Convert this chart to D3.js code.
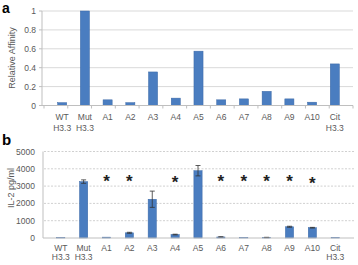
<!DOCTYPE html>
<html>
<head>
<meta charset="utf-8">
<script src="https://cdn.jsdelivr.net/npm/d3@7"></script>
<style>
  body { margin: 0; background: #fff; }
  svg { display: block; font-family: "Liberation Sans", Arial, sans-serif; }
</style>
</head>
<body>
<div id="chart"></div>
<script>
// categories, two lines each
const categories = ["WT H3.3", "Mut H3.3", "A1", "A2", "A3", "A4", "A5", "A6", "A7", "A8", "A9", "A10", "Cit H3.3"];
// panel a: relative affinity
const affinity = [0.03, 1.0, 0.06, 0.03, 0.355, 0.078, 0.575, 0.06, 0.07, 0.15, 0.07, 0.035, 0.44];
// panel b: IL-2 pg/ml, with error
const il2 = [20, 3260, 50, 300, 2240, 200, 3890, 60, 20, 30, 650, 595, 20];
const il2Err = [0, 100, 0, 30, 470, 20, 300, 10, 0, 10, 30, 20, 0];
// asterisks over panel b
const starCats = ["A1", "A2", "A4", "A6", "A7", "A8", "A9", "A10"];
const starVals = [3400, 3400, 3350, 3400, 3400, 3400, 3400, 3300];
const ticksA = [0, 0.2, 0.4, 0.6, 0.8, 1];
const ticksB = [0, 1000, 2000, 3000, 4000, 5000];

const W = 358, H = 265;
const barFill = "#4a7dc0", barStroke = "#3b68a6", txt = "#595959";

const svg = d3.select("#chart").append("svg")
    .attr("width", W).attr("height", H);

// ---- panel a
const xa = d3.scaleBand().domain(categories).range([44, 353]).padding(0.6);
const ya = d3.scaleLinear().domain([0, 1]).range([105.5, 11]);

const ga = svg.append("g");
ga.selectAll("line.grid").data(ticksA.slice(1)).enter().append("line")
    .attr("x1", 42).attr("x2", 353)
    .attr("y1", d => ya(d)).attr("y2", d => ya(d))
    .attr("stroke", "#d9d9d9").attr("stroke-width", 1);

ga.append("line").attr("x1", 42).attr("x2", 42)
    .attr("y1", ya(1)).attr("y2", ya(0)).attr("stroke", "#bfbfbf");

ga.selectAll("line.yt").data(ticksA).enter().append("line")
    .attr("x1", 39).attr("x2", 42)
    .attr("y1", d => ya(d)).attr("y2", d => ya(d)).attr("stroke", "#bfbfbf");

ga.selectAll("text.yl").data(ticksA).enter().append("text")
    .attr("x", 36).attr("y", d => ya(d) + 3)
    .attr("text-anchor", "end").attr("font-size", 8.5).attr("fill", txt)
    .text(d => d3.format("")(d));

ga.selectAll("rect").data(affinity).enter().append("rect")
    .attr("x", (d, i) => xa(categories[i]))
    .attr("width", xa.bandwidth())
    .attr("y", d => ya(d))
    .attr("height", d => ya(0) - ya(d))
    .attr("fill", barFill).attr("stroke", barStroke).attr("stroke-width", 0.5);

ga.append("line").attr("x1", 42).attr("x2", 353)
    .attr("y1", ya(0)).attr("y2", ya(0)).attr("stroke", "#bfbfbf");

// between-category ticks
ga.selectAll("line.xt").data(d3.range(categories.length + 1)).enter().append("line")
    .attr("x1", i => 44 + i * (309 / categories.length))
    .attr("x2", i => 44 + i * (309 / categories.length))
    .attr("y1", ya(0)).attr("y2", ya(0) + 3).attr("stroke", "#bfbfbf");

function catLabels(g, x, y1, y2) {
    const t = g.selectAll("text.xl").data(categories).enter().append("text")
        .attr("text-anchor", "middle").attr("font-size", 8.5).attr("fill", txt);
    t.each(function(d) {
        const parts = d.split(" ");
        const cx = x(d) + x.bandwidth() / 2;
        d3.select(this).append("tspan").attr("x", cx).attr("y", y1).text(parts[0]);
        if (parts[1]) d3.select(this).append("tspan").attr("x", cx).attr("y", y2).text(parts[1]);
    });
}
catLabels(ga, xa, 120, 131);

ga.append("text")
    .attr("transform", "translate(15,58) rotate(-90)")
    .attr("text-anchor", "middle").attr("font-size", 9).attr("fill", txt)
    .text("Relative Affinity");

svg.append("text").attr("x", 2).attr("y", 13)
    .attr("font-size", 14).attr("font-weight", "bold").attr("fill", "#000").text("a");

// ---- panel b
const xb = d3.scaleBand().domain(categories).range([42, 354]).padding(0.64);
const yb = d3.scaleLinear().domain([0, 5000]).range([238, 151.5]);

const gb = svg.append("g");
gb.selectAll("line.grid").data(ticksB.slice(1)).enter().append("line")
    .attr("x1", 44).attr("x2", 354)
    .attr("y1", d => yb(d)).attr("y2", d => yb(d))
    .attr("stroke", "#d0d0d0").attr("stroke-width", 1).attr("stroke-dasharray", "2,1.5");

gb.append("line").attr("x1", 43).attr("x2", 43)
    .attr("y1", yb(5000)).attr("y2", yb(0)).attr("stroke", "#bfbfbf");

gb.selectAll("text.yl").data(ticksB).enter().append("text")
    .attr("x", 35).attr("y", d => yb(d) + 3)
    .attr("text-anchor", "end").attr("font-size", 8.5).attr("fill", txt)
    .text(d => d);

gb.selectAll("rect").data(il2).enter().append("rect")
    .attr("x", (d, i) => xb(categories[i]))
    .attr("width", xb.bandwidth())
    .attr("y", d => yb(d))
    .attr("height", d => yb(0) - yb(d))
    .attr("fill", barFill).attr("stroke", barStroke).attr("stroke-width", 0.5);

// error bars
il2.forEach((d, i) => {
    if (!il2Err[i]) return;
    const cx = xb(categories[i]) + xb.bandwidth() / 2;
    const g = gb.append("g");
    const lo = yb(d - il2Err[i]), hi = yb(d + il2Err[i]);
    g.append("line").attr("x1", cx).attr("x2", cx).attr("y1", lo).attr("y2", hi)
        .attr("stroke", "#333").attr("stroke-width", 0.8);
    [lo, hi].forEach(yy => g.append("line")
        .attr("x1", cx - 2.5).attr("x2", cx + 2.5).attr("y1", yy).attr("y2", yy)
        .attr("stroke", "#333").attr("stroke-width", 0.8));
});

gb.append("line").attr("x1", 43).attr("x2", 354)
    .attr("y1", yb(0)).attr("y2", yb(0)).attr("stroke", "#bfbfbf");

gb.selectAll("text.star").data(starCats).enter().append("text")
    .attr("x", d => xb(d) + xb.bandwidth() / 2)
    .attr("y", (d, i) => yb(starVals[i]) + 8)
    .attr("text-anchor", "middle").attr("font-size", 17).attr("font-weight", "bold")
    .attr("fill", "#222").text("*");

catLabels(gb, xb, 251, 260);

gb.append("text")
    .attr("transform", "translate(14,188) rotate(-90)")
    .attr("text-anchor", "middle").attr("font-size", 9).attr("fill", txt)
    .text("IL-2 pg/ml");

svg.append("text").attr("x", 2).attr("y", 145)
    .attr("font-size", 15).attr("font-weight", "bold").attr("fill", "#000").text("b");
</script>
</body>
</html>
